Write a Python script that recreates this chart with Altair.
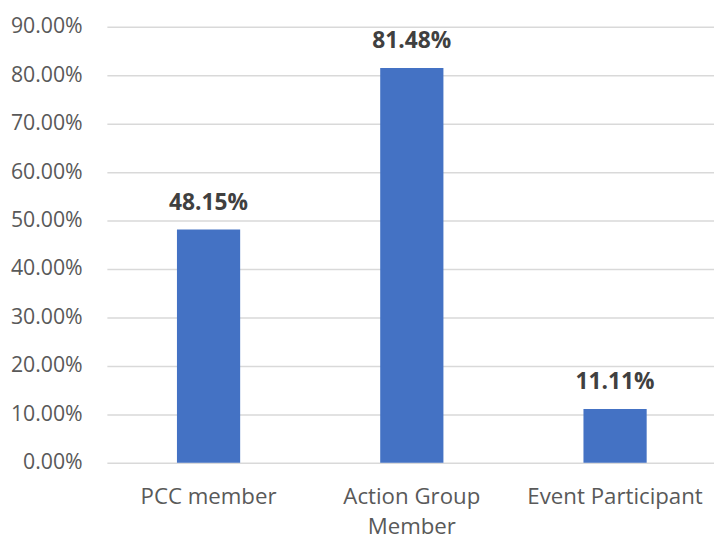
import altair as alt
import pandas as pd

categories = ["PCC member", "Action Group Member", "Event Participant"]
values = [0.4815, 0.8148, 0.1111]
y_ticks = [0, 0.1, 0.2, 0.3, 0.4, 0.5, 0.6, 0.7, 0.8, 0.9]

df = pd.DataFrame({"category": categories, "value": values})

FONT = "Open Sans"

x = alt.X(
    "category:N",
    sort=categories,
    title=None,
    scale=alt.Scale(paddingInner=0.689, paddingOuter=0.338, align=0.51),
    axis=alt.Axis(
        labelAngle=0,
        domain=False,
        ticks=False,
        labelPadding=23,
        labelFont=FONT,
        labelFontSize=22.5,
        labelColor="#595959",
        labelLineHeight=30,
        labelExpr="datum.value == 'Action Group Member' ? ['Action Group', 'Member'] : datum.label",
    ),
)

y = alt.Y(
    "value:Q",
    title=None,
    scale=alt.Scale(domain=[0, 0.9], nice=False),
    axis=alt.Axis(
        values=y_ticks,
        format=".2%",
        domain=False,
        ticks=False,
        labelPadding=25,
        labelFont=FONT,
        labelFontSize=21.5,
        labelColor="#595959",
        gridColor="#d9d9d9",
        gridWidth=1.5,
    ),
)

base = alt.Chart(df).encode(x=x, y=y)

bars = base.mark_bar(color="#4472C4")

labels = base.mark_text(
    baseline="alphabetic",
    dy=-20,
    font=FONT,
    fontSize=23,
    fontWeight="bold",
    color="#404040",
).encode(text=alt.Text("value:Q", format=".2%"))

chart = (
    (bars + labels)
    .properties(
        width=614,
        height=441,
        padding={"left": 100, "top": 16, "right": 0, "bottom": 76},
        autosize=alt.AutoSizeParams(type="none"),
    )
    .configure_view(stroke=None)
)

chart.save("out.html", embed_options={"renderer": "svg", "actions": False})
